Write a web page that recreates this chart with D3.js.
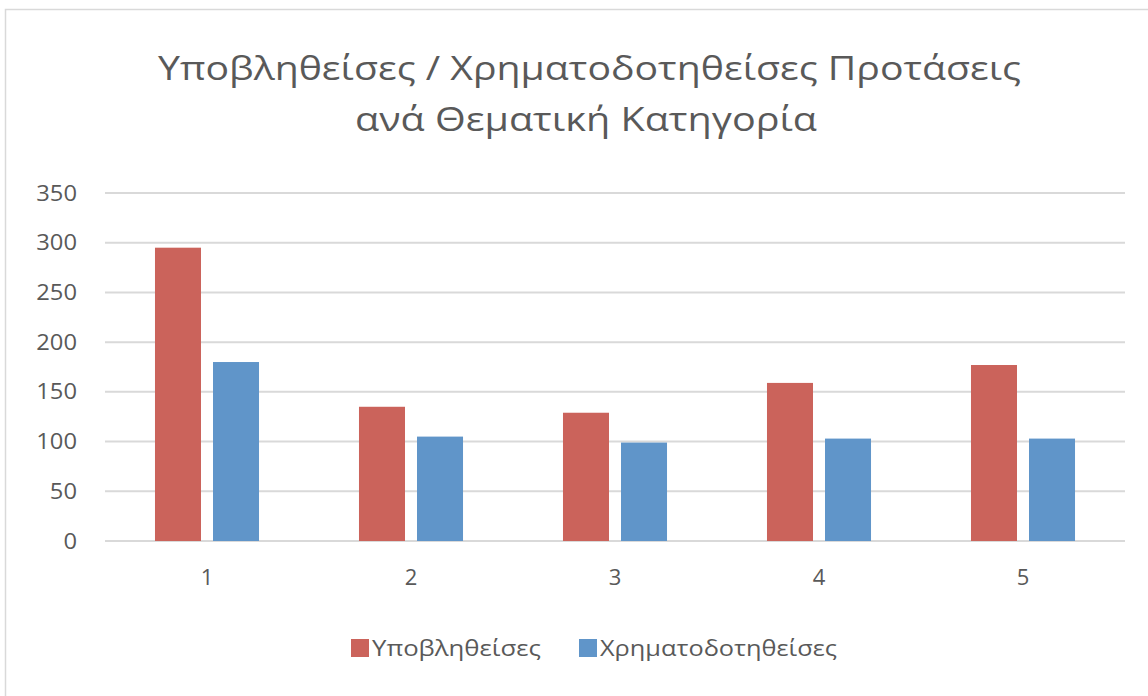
<!DOCTYPE html>
<html><head><meta charset="utf-8">
<script src="https://cdn.jsdelivr.net/npm/d3@7"></script>
<style>body{margin:0;background:#fff}svg{display:block}text{font-family:"Open Sans",sans-serif;fill:#595959}</style>
</head><body>
<svg id="c" width="1148" height="696"></svg>
<script>
const categories = ["1","2","3","4","5"];
const seriesNames = ["Υποβληθείσες","Χρηματοδοτηθείσες"];
const submitted = [295,135,129,159,177];
const funded = [180,105,99,103,103];
const yTicks = [0,50,100,150,200,250,300,350];
const titleLines = ["Υποβληθείσες / Χρηματοδοτηθείσες Προτάσεις","ανά Θεματική Κατηγορία"];
const colors = ["#CB635B","#6095C9"];

const svg = d3.select("#c");
svg.append("rect").attr("x",5.5).attr("y",9.5).attr("width",1200).attr("height",800)
  .attr("fill","#fff").attr("stroke","#d9d9d9").attr("stroke-width",1.5);

const y = d3.scaleLinear().domain([0,350]).range([541,193]);
const x0 = d3.scaleBand().domain(categories).range([105,1125]).paddingInner(0.49).paddingOuter(0.245);
const x1 = d3.scaleBand().domain(seriesNames).range([0,x0.bandwidth()]).paddingInner(0.207);

// title (source glyphs are horizontally wider; stretch to match)
const titleLen = [863,462];
svg.append("g").selectAll("text").data(titleLines).join("text")
  .attr("text-anchor","middle").attr("font-size",32)
  .attr("x",(d,i)=>i===0?589.5:586).attr("y",(d,i)=>80+i*51)
  .attr("textLength",(d,i)=>titleLen[i]).attr("lengthAdjust","spacingAndGlyphs")
  .text(d=>d);

// gridlines
svg.append("g").selectAll("line").data(yTicks).join("line")
  .attr("x1",105).attr("x2",1125).attr("y1",d=>y(d)).attr("y2",d=>y(d))
  .attr("stroke","#d9d9d9").attr("stroke-width",2);

// y axis
const yAxis = svg.append("g").attr("transform","translate(77,0)")
  .call(d3.axisLeft(y).tickValues(yTicks).tickSize(0).tickPadding(0));
yAxis.select(".domain").remove();
yAxis.selectAll("text").attr("font-size",22).attr("font-family","Open Sans").attr("fill","#595959")
  .attr("transform","scale(1.08,1)");

// x axis
const xAxis = svg.append("g").attr("transform","translate(0,569)")
  .call(d3.axisBottom(x0).tickSize(0).tickPadding(0));
xAxis.select(".domain").remove();
xAxis.selectAll("text").attr("font-size",22).attr("font-family","Open Sans").attr("fill","#595959");

// bars
const data = categories.map((c,i)=>({c, vals:[submitted[i],funded[i]]}));
const g = svg.append("g").selectAll("g").data(data).join("g")
  .attr("transform",d=>`translate(${x0(d.c)},0)`);
g.selectAll("rect").data(d=>d.vals.map((v,j)=>({s:seriesNames[j],v,j}))).join("rect")
  .attr("x",d=>x1(d.s)).attr("width",x1.bandwidth())
  .attr("y",d=>y(d.v)).attr("height",d=>y(0)-y(d.v))
  .attr("fill",d=>colors[d.j]);

// legend
const legX = [351,579];
const legLen = [169,237];
const lg = svg.append("g").selectAll("g").data(seriesNames).join("g")
  .attr("transform",(d,i)=>`translate(${legX[i]},639)`);
lg.append("rect").attr("width",18).attr("height",18).attr("fill",(d,i)=>colors[i]);
lg.append("text").attr("x",21).attr("y",17).attr("font-size",22)
  .attr("textLength",(d,i)=>legLen[i]).attr("lengthAdjust","spacingAndGlyphs").text(d=>d);
</script>
</body></html>
